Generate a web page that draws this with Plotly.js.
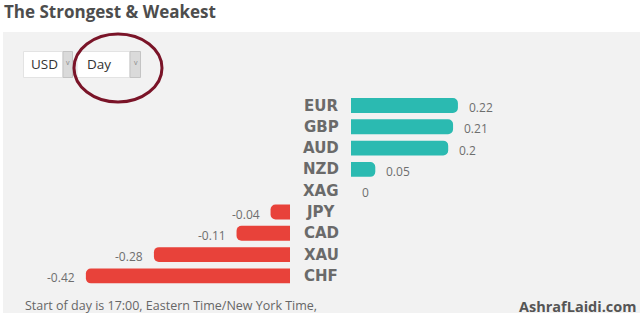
<!DOCTYPE html>
<html>
<head>
<meta charset="utf-8">
<script src="https://cdn.plot.ly/plotly-3.0.1.min.js"></script>
<style>
html,body{margin:0;padding:0;background:#fff;}
#chart{width:640px;height:317px;}
</style>
</head>
<body>
<div id="chart"></div>
<script>
// ---- data ----
const categories = ["EUR", "GBP", "AUD", "NZD", "XAG", "JPY", "CAD", "XAU", "CHF"];
const values     = [0.22, 0.21, 0.2, 0.05, 0, -0.04, -0.11, -0.28, -0.42];
const valueLabels = ["0.22", "0.21", "0.2", "0.05", "0", "-0.04", "-0.11", "-0.28", "-0.42"];
const titleText = "The Strongest & Weakest";
const footerText = "Start of day is 17:00, Eastern Time/New York Time,";
const brandText = "AshrafLaidi.com";
const currencySel = "USD";
const periodSel = "Day";

// ---- helpers (pixel -> paper) ----
const W = 640, H = 317;
const px = x => x / W;
const py = y => 1 - y / H;

const posVals = values.map(v => v > 0 ? v : null);
const negVals = values.map(v => v < 0 ? v : null);

const teal = "#2bbab1";
const red = "#e8423a";

const traces = [
  {type: "bar", orientation: "h", y: categories, x: negVals, xaxis: "x", yaxis: "y",
   marker: {color: red, cornerradius: 5}, width: 0.7, hoverinfo: "skip"},
  {type: "bar", orientation: "h", y: categories, x: posVals, xaxis: "x2", yaxis: "y",
   marker: {color: teal, cornerradius: 5}, width: 0.7, hoverinfo: "skip"}
];

const annotations = [];
const fontMain = "'Open Sans', 'DejaVu Sans', sans-serif";
// category labels
categories.forEach((c, i) => {
  annotations.push({xref: "paper", yref: "y", x: px(321), y: c, text: "<b>" + c + "</b>",
    showarrow: false, xanchor: "center", yanchor: "middle",
    font: {family: "'DejaVu Sans', sans-serif", size: 15, color: "#6a6a6a"}});
});
// value labels
values.forEach((v, i) => {
  if (v >= 0) {
    annotations.push({xref: "x2", yref: "y", x: v, y: categories[i], text: valueLabels[i],
      showarrow: false, xanchor: "left", yanchor: "middle", xshift: 9, yshift: -2,
      font: {family: fontMain, size: 12, color: "#6e6e6e"}});
  } else {
    annotations.push({xref: "x", yref: "y", x: v, y: categories[i], text: valueLabels[i],
      showarrow: false, xanchor: "right", yanchor: "middle", xshift: -9, yshift: -2,
      font: {family: fontMain, size: 12, color: "#6e6e6e"}});
  }
});
// footer
annotations.push({xref: "paper", yref: "paper", x: px(23), y: py(305), text: footerText,
  showarrow: false, xanchor: "left", yanchor: "middle",
  font: {family: fontMain, size: 12.5, color: "#666"}});
annotations.push({xref: "paper", yref: "paper", x: px(638), y: py(306), text: "<b>" + brandText + "</b>",
  showarrow: false, xanchor: "right", yanchor: "middle",
  font: {family: fontMain, size: 14.5, color: "#555"}});
// dropdown texts
annotations.push({xref: "paper", yref: "paper", x: px(29), y: py(64), text: currencySel,
  showarrow: false, xanchor: "left", yanchor: "middle",
  font: {family: fontMain, size: 13.5, color: "#333"}});
annotations.push({xref: "paper", yref: "paper", x: px(85), y: py(64), text: periodSel,
  showarrow: false, xanchor: "left", yanchor: "middle",
  font: {family: fontMain, size: 13.5, color: "#333"}});
annotations.push({xref: "paper", yref: "paper", x: px(68), y: py(63), text: "v",
  showarrow: false, xanchor: "center", yanchor: "middle",
  font: {family: fontMain, size: 7, color: "#888"}});
annotations.push({xref: "paper", yref: "paper", x: px(135.5), y: py(63), text: "v",
  showarrow: false, xanchor: "center", yanchor: "middle",
  font: {family: fontMain, size: 7, color: "#888"}});

const shapes = [
  // panel
  {type: "rect", xref: "paper", yref: "paper", x0: px(3), x1: px(640), y0: py(313), y1: py(32),
   fillcolor: "#f2f2f2", line: {width: 0}, layer: "below"},
  // USD box
  {type: "rect", xref: "paper", yref: "paper", x0: px(23.5), x1: px(63), y0: py(77.5), y1: py(51.5),
   fillcolor: "#ffffff", line: {width: 1, color: "#e3e3e3"}, layer: "below"},
  {type: "rect", xref: "paper", yref: "paper", x0: px(63), x1: px(72.5), y0: py(77.5), y1: py(51.5),
   fillcolor: "#dadada", line: {width: 1, color: "#c4c4c4"}, layer: "below"},
  // Day box
  {type: "rect", xref: "paper", yref: "paper", x0: px(77), x1: px(130), y0: py(77.5), y1: py(51.5),
   fillcolor: "#ffffff", line: {width: 1, color: "#e3e3e3"}, layer: "below"},
  {type: "rect", xref: "paper", yref: "paper", x0: px(130), x1: px(140.5), y0: py(77.5), y1: py(51.5),
   fillcolor: "#dadada", line: {width: 1, color: "#c4c4c4"}, layer: "below"},
  // ellipse
  {type: "circle", xref: "paper", yref: "paper", x0: px(74), x1: px(162), y0: py(102), y1: py(34),
   line: {width: 3, color: "#7a1428"}, fillcolor: "rgba(0,0,0,0)", layer: "above"}
];

const rowTop = 105.5, rowStep = 21.3;
const yTop = rowTop - rowStep / 2, yBot = rowTop + rowStep * (categories.length - 1) + rowStep / 2;

const layout = {
  width: W, height: H,
  margin: {l: 0, r: 0, t: 0, b: 0},
  paper_bgcolor: "#ffffff",
  plot_bgcolor: "rgba(0,0,0,0)",
  showlegend: false,
  barmode: "overlay",
  title: {text: "<b>" + titleText + "</b>", x: px(4), xanchor: "left", xref: "paper",
          y: py(12), yanchor: "middle", yref: "paper",
          font: {family: fontMain, size: 17, color: "#4d4d4d"}},
  xaxis: {domain: [px(47), px(290)], range: [-0.5, 0], visible: false, fixedrange: true},
  xaxis2: {domain: [px(351), px(594)], range: [0, 0.5], visible: false, anchor: "y", fixedrange: true},
  yaxis: {domain: [py(yBot), py(yTop)], type: "category", categoryorder: "array",
          categoryarray: categories, range: [categories.length - 0.5, -0.5],
          visible: false, fixedrange: true},
  shapes: shapes,
  annotations: annotations
};

Plotly.newPlot("chart", traces, layout, {displayModeBar: false, staticPlot: true});
</script>
</body>
</html>
